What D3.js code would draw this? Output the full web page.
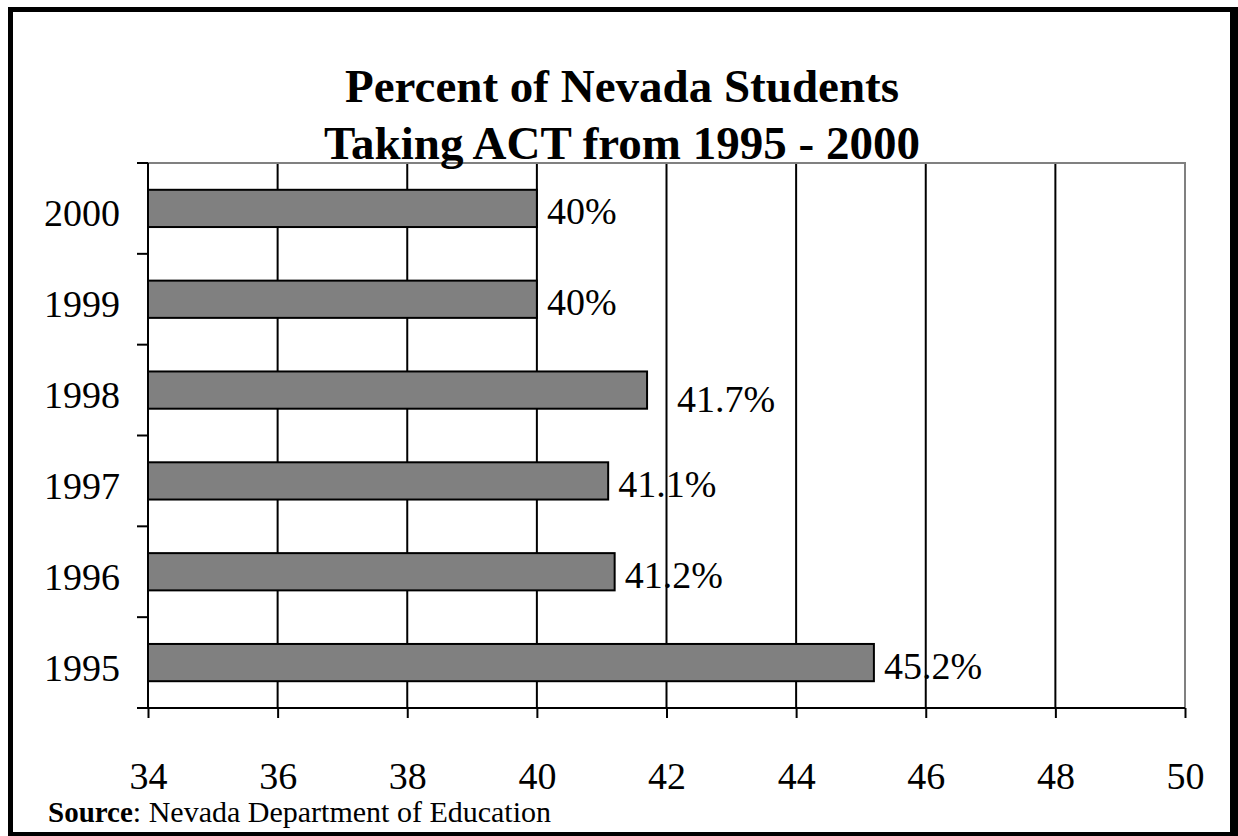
<!DOCTYPE html>
<html>
<head>
<meta charset="utf-8">
<script src="https://cdn.jsdelivr.net/npm/d3@7"></script>
<style>
  html, body { margin: 0; padding: 0; background: #fff; }
  svg { display: block; }
  text { font-family: "Liberation Serif", "Times New Roman", serif; fill: #000; }
</style>
</head>
<body>
<svg id="chart" width="1238" height="836"></svg>
<script>
// ---- data ----
const categories = ["1995", "1996", "1997", "1998", "1999", "2000"];
const values = [45.2, 41.2, 41.1, 41.7, 40, 40];
const valueLabels = ["45.2%", "41.2%", "41.1%", "41.7%", "40%", "40%"];
const xTicks = [34, 36, 38, 40, 42, 44, 46, 48, 50];
const titleLines = ["Percent of Nevada Students", "Taking ACT from 1995 - 2000"];

// label nudges (layout only), matching category order
const labelNudge = [[0, 0], [0, 0], [0, 0], [20, 6], [0, 0], [0, 0]];

const svg = d3.select("#chart");
const W = 1238, H = 836;
const plot = { left: 148, right: 1185, top: 163, bottom: 708 };

// outer frame
svg.append("rect").attr("x", 0).attr("y", 0).attr("width", W).attr("height", H).attr("fill", "#fff");
const frame = svg.append("g").attr("fill", "#000");
frame.append("rect").attr("x", 8).attr("y", 7).attr("width", 1230 - 8).attr("height", 5);
frame.append("rect").attr("x", 8).attr("y", 7).attr("width", 5).attr("height", 836 - 7);
frame.append("rect").attr("x", 1230).attr("y", 7).attr("width", 8).attr("height", 836 - 7);
frame.append("rect").attr("x", 8).attr("y", 832).attr("width", 1238 - 8).attr("height", 4);

const x = d3.scaleLinear().domain([34, 50]).range([plot.left, plot.right]);
const y = d3.scaleBand().domain(categories.slice().reverse()).range([plot.top, plot.bottom]).padding(0);
const barH = y.bandwidth() * 0.41;

// gridlines
svg.append("g")
  .selectAll("line")
  .data(xTicks.filter(t => t > 34 && t < 50))
  .join("line")
  .attr("x1", d => x(d)).attr("x2", d => x(d))
  .attr("y1", plot.top).attr("y2", plot.bottom)
  .attr("stroke", "#000").attr("stroke-width", 2);

// plot area top/right border (gray)
svg.append("path")
  .attr("d", `M${plot.left},${plot.top}H${plot.right}V${plot.bottom}`)
  .attr("fill", "none").attr("stroke", "#808080").attr("stroke-width", 2);

// bars
const data = categories.map((c, i) => ({ c, v: values[i], label: valueLabels[i], nudge: labelNudge[i] }));
svg.append("g")
  .selectAll("rect")
  .data(data)
  .join("rect")
  .attr("x", x(34))
  .attr("y", d => y(d.c) + (y.bandwidth() - barH) / 2)
  .attr("width", d => x(d.v) - x(34))
  .attr("height", barH)
  .attr("fill", "#808080")
  .attr("stroke", "#000")
  .attr("stroke-width", 2);

// value labels
svg.append("g")
  .selectAll("text")
  .data(data)
  .join("text")
  .attr("x", d => x(d.v) + 10 + d.nudge[0])
  .attr("y", d => y(d.c) + y.bandwidth() / 2 + 16 + d.nudge[1])
  .attr("font-size", 38)
  .text(d => d.label);

// x axis
const xAxis = d3.axisBottom(x).tickValues(xTicks).tickSize(10).tickPadding(44).tickFormat(d3.format("d"));
const gx = svg.append("g").attr("transform", `translate(0,${plot.bottom})`).call(xAxis);
gx.select(".domain").attr("stroke", "#000").attr("stroke-width", 2)
  .attr("d", `M${plot.left - 11},0H${plot.right}`);
gx.selectAll(".tick line").attr("stroke", "#000").attr("stroke-width", 2);
gx.selectAll(".tick text")
  .attr("font-family", "Liberation Serif, Times New Roman, serif")
  .attr("font-size", 38).attr("fill", "#000");

// y axis: ticks at category boundaries
const gy = svg.append("g");
gy.append("line")
  .attr("x1", plot.left).attr("x2", plot.left)
  .attr("y1", plot.top).attr("y2", plot.bottom)
  .attr("stroke", "#000").attr("stroke-width", 2);
const boundaries = categories.slice().reverse().map(c => y(c)).concat([y.range()[1]]);
gy.selectAll("line.tk")
  .data(boundaries)
  .join("line").attr("class", "tk")
  .attr("x1", plot.left - 11).attr("x2", plot.left)
  .attr("y1", d => d).attr("y2", d => d)
  .attr("stroke", "#000").attr("stroke-width", 2);
gy.selectAll("text")
  .data(categories)
  .join("text")
  .attr("x", 120)
  .attr("y", d => y(d) + y.bandwidth() / 2 + 18)
  .attr("text-anchor", "end")
  .attr("font-size", 38)
  .text(d => d);

// title
svg.append("g")
  .selectAll("text")
  .data(titleLines)
  .join("text")
  .attr("x", 622)
  .attr("y", (d, i) => 102 + i * 57)
  .attr("text-anchor", "middle")
  .attr("font-size", 47)
  .attr("font-weight", "bold")
  .text(d => d);

// source
const src = svg.append("text").attr("x", 48).attr("y", 822).attr("xml:space", "preserve");
src.append("tspan").attr("font-weight", "bold").attr("font-size", 29).text("Source");
src.append("tspan").attr("font-size", 30).text(": Nevada Department of Education");
</script>
</body>
</html>
